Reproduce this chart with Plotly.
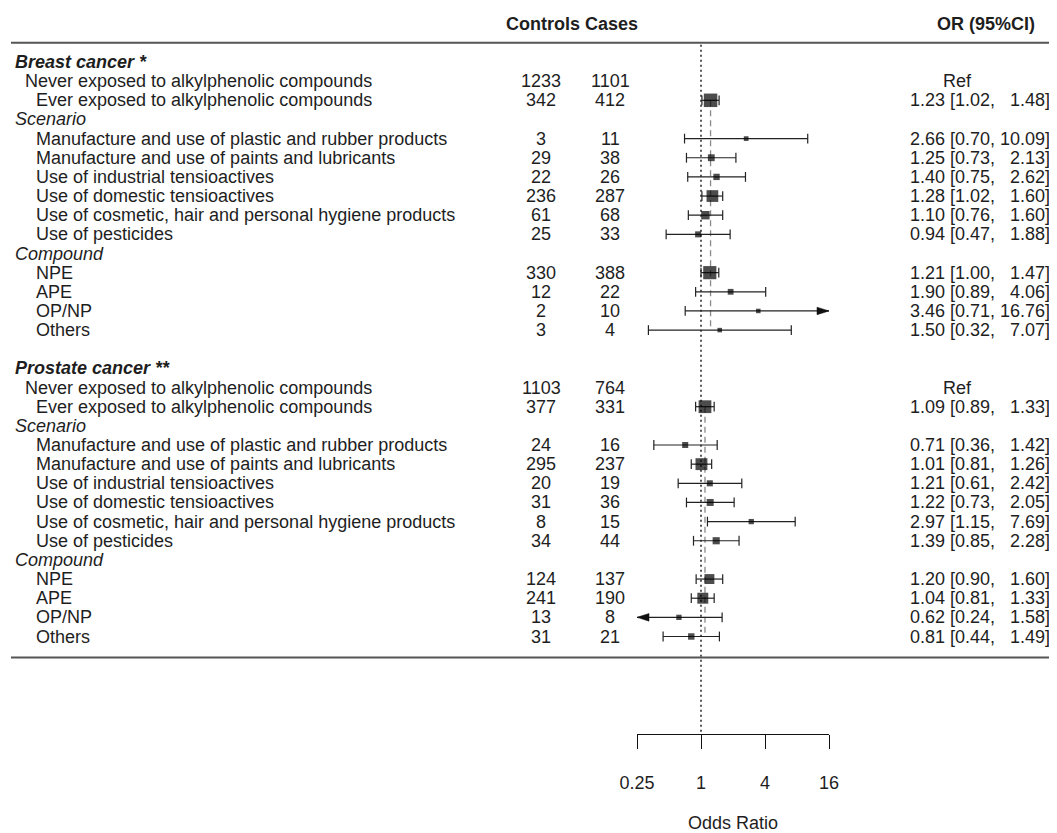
import numpy as np
import plotly.graph_objects as go

# ---------------- data ----------------
item_labels = [
    "Never exposed to alkylphenolic compounds",
    "Ever exposed to alkylphenolic compounds",
    "Manufacture and use of plastic and rubber products",
    "Manufacture and use of paints and lubricants",
    "Use of industrial tensioactives",
    "Use of domestic tensioactives",
    "Use of cosmetic, hair and personal hygiene products",
    "Use of pesticides",
    "NPE",
    "APE",
    "OP/NP",
    "Others",
]
section_titles = ["Breast cancer *", "Prostate cancer **"]
group_titles = ["Scenario", "Compound"]

breast_controls = [1233, 342, 3, 29, 22, 236, 61, 25, 330, 12, 2, 3]
breast_cases = [1101, 412, 11, 38, 26, 287, 68, 33, 388, 22, 10, 4]
breast_or = [None, 1.23, 2.66, 1.25, 1.40, 1.28, 1.10, 0.94, 1.21, 1.90, 3.46, 1.50]
breast_lo = [None, 1.02, 0.70, 0.73, 0.75, 1.02, 0.76, 0.47, 1.00, 0.89, 0.71, 0.32]
breast_hi = [None, 1.48, 10.09, 2.13, 2.62, 1.60, 1.60, 1.88, 1.47, 4.06, 16.76, 7.07]

prostate_controls = [1103, 377, 24, 295, 20, 31, 8, 34, 124, 241, 13, 31]
prostate_cases = [764, 331, 16, 237, 19, 36, 15, 44, 137, 190, 8, 21]
prostate_or = [None, 1.09, 0.71, 1.01, 1.21, 1.22, 2.97, 1.39, 1.20, 1.04, 0.62, 0.81]
prostate_lo = [None, 0.89, 0.36, 0.81, 0.61, 0.73, 1.15, 0.85, 0.90, 0.81, 0.24, 0.44]
prostate_hi = [None, 1.33, 1.42, 1.26, 2.42, 2.05, 7.69, 2.28, 1.60, 1.33, 1.58, 1.49]

tick_vals = [0.25, 1, 4, 16]
tick_text = ["0.25", "1", "4", "16"]
x_title = "Odds Ratio"
header_counts = "Controls Cases"
header_or = "OR (95%CI)"
ref_text = "Ref"

# ---------------- layout constants (page pixels) ----------------
PAGE_W, PAGE_H = 1057, 833
PAD = 8                      # default body margin of the html page
W, H = PAGE_W - PAD, PAGE_H - PAD
ROW0_PX = 62.0      # page y of first row
ROW_PX = 19.15      # row height
AXIS_PX = 734.0     # page y of the x axis line
AX_L, AX_R = 637.0, 829.0
XMIN, XMAX = tick_vals[0], tick_vals[-1]
PX_PER_LOG2 = (AX_R - AX_L) / (np.log2(XMAX) - np.log2(XMIN))

FONT = "Liberation Sans, Arial, Helvetica, sans-serif"
FS = 18
TXT = "#1e1e1e"


def px_x(px):
    return (px - PAD) / W


item_offsets = [1, 2, 4, 5, 6, 7, 8, 9, 11, 12, 13, 14]
group_offsets = [3, 10]
section_starts = [0, 16]

sections = [
    (breast_controls, breast_cases, breast_or, breast_lo, breast_hi),
    (prostate_controls, prostate_cases, prostate_or, prostate_lo, prostate_hi),
]

# point sizes as in metafor: proportional to 1/SE, rescaled to [0.5, 1.5]
all_lo = [v for s in sections for v in s[3] if v is not None]
all_hi = [v for s in sections for v in s[4] if v is not None]
inv_se = [1.0 / ((np.log(h) - np.log(l)) / (2 * 1.96)) for l, h in zip(all_lo, all_hi)]
w_min, w_max = min(inv_se), max(inv_se)


def psize(l, h):
    w = 1.0 / ((np.log(h) - np.log(l)) / (2 * 1.96))
    return 0.5 + (w - w_min) / (w_max - w_min)


fig = go.Figure()

y_top = (PAD - ROW0_PX) / ROW_PX
y_bot = (AXIS_PX - ROW0_PX) / ROW_PX
last_row = section_starts[-1] + item_offsets[-1]

# reference line at OR = 1
fig.add_trace(go.Scatter(x=[1, 1], y=[-0.9, y_bot], mode="lines",
                         line=dict(color="#111", width=1.4, dash="2px,3px"),
                         hoverinfo="skip", showlegend=False))

ci_x, ci_y = [], []
cap_x, cap_y = [], []
arr_x, arr_y = [], []
sq_x, sq_y, sq_s = [], [], []
annotations = []
ARROW_LEN = 12.0
ARROW_HALF = 3.8 / ROW_PX


def ann(text, xpx, row, anchor="left", bold=False, italic=False, size=FS):
    t = text
    if bold:
        t = "<b>" + t + "</b>"
    if italic:
        t = "<i>" + t + "</i>"
    annotations.append(dict(text=t, x=px_x(xpx), y=row, xref="paper", yref="y",
                            xanchor=anchor, yanchor="middle", showarrow=False,
                            font=dict(family=FONT, size=size, color=TXT)))


for si, (ctrl, case, orv, lo, hi) in enumerate(sections):
    base = section_starts[si]
    ann(section_titles[si], 13, base, bold=True, italic=True)
    for gi, g_off in enumerate(group_offsets):
        ann(group_titles[gi], 13, base + g_off, italic=True)
    # dashed line at the "ever exposed" estimate
    fig.add_trace(go.Scatter(x=[orv[1], orv[1]], y=[base + item_offsets[1], base + item_offsets[-1]],
                             mode="lines", line=dict(color="#8a8a8a", width=1.3, dash="6px,4px"),
                             hoverinfo="skip", showlegend=False))
    for i, lab in enumerate(item_labels):
        row = base + item_offsets[i]
        ann(lab, 23 if i == 0 else 34, row)
        ann(str(ctrl[i]), 541, row, anchor="center")
        ann(str(case[i]), 610, row, anchor="center")
        if orv[i] is None:
            ann(ref_text, 957, row, anchor="center")
            continue
        hi_s = "%.2f" % hi[i]
        if len(hi_s) < 5:
            hi_s = "\u00a0\u00a0" + hi_s
        ann("%.2f [%.2f,\u00a0%s]" % (orv[i], lo[i], hi_s), 1052, row, anchor="right")
        l_c = max(lo[i], XMIN)
        h_c = min(hi[i], XMAX)
        ci_x += [l_c, h_c, None]
        ci_y += [row, row, None]
        if lo[i] >= XMIN:
            cap_x.append(lo[i]); cap_y.append(row)
        else:
            b = XMIN * 2 ** (ARROW_LEN / PX_PER_LOG2)
            arr_x += [XMIN, b, b, XMIN, None]
            arr_y += [row, row - ARROW_HALF, row + ARROW_HALF, row, None]
        if hi[i] <= XMAX:
            cap_x.append(hi[i]); cap_y.append(row)
        else:
            b = XMAX * 2 ** (-ARROW_LEN / PX_PER_LOG2)
            arr_x += [XMAX, b, b, XMAX, None]
            arr_y += [row, row - ARROW_HALF, row + ARROW_HALF, row, None]
        sq_x.append(orv[i]); sq_y.append(row); sq_s.append(9.0 * psize(lo[i], hi[i]))

fig.add_trace(go.Scatter(x=ci_x, y=ci_y, mode="lines", line=dict(color="#222", width=1.2),
                         hoverinfo="skip", showlegend=False))
fig.add_trace(go.Scatter(x=cap_x, y=cap_y, mode="markers", cliponaxis=False,
                         marker=dict(symbol="line-ns", size=7, line=dict(color="#222", width=1.2)),
                         hoverinfo="skip", showlegend=False))
fig.add_trace(go.Scatter(x=arr_x, y=arr_y, mode="lines", fill="toself", fillcolor="#111",
                         line=dict(color="#111", width=0.5), hoverinfo="skip", showlegend=False))
fig.add_trace(go.Scatter(x=sq_x, y=sq_y, mode="markers", cliponaxis=False,
                         marker=dict(symbol="square", size=sq_s, color="#000", line=dict(width=0)),
                         hoverinfo="skip", showlegend=False))

# header
ann(header_counts, 504, -2, bold=True)
ann(header_or, 986, -2, anchor="center", bold=True)

shapes = [
    dict(type="line", xref="paper", yref="y", x0=px_x(11), x1=1.0, y0=-1, y1=-1,
         line=dict(color="#555", width=2)),
    dict(type="line", xref="paper", yref="y", x0=px_x(11), x1=1.0, y0=last_row + 1.1, y1=last_row + 1.1,
         line=dict(color="#555", width=2)),
]

fig.update_layout(
    width=W, height=H,
    margin=dict(l=0, r=0, t=0, b=0),
    paper_bgcolor="white", plot_bgcolor="white",
    showlegend=False,
    annotations=annotations,
    shapes=shapes,
    xaxis=dict(type="log", domain=[px_x(AX_L), px_x(AX_R)],
               range=[np.log10(XMIN), np.log10(XMAX)],
               tickvals=tick_vals, ticktext=tick_text,
               ticks="outside", ticklen=14, tickwidth=1.2, tickcolor="#111",
               showline=True, linecolor="#111", linewidth=1.2,
               showgrid=False, zeroline=False, ticklabelstandoff=18,
               tickfont=dict(family=FONT, size=FS, color=TXT),
               title=dict(text=x_title, font=dict(family=FONT, size=FS, color=TXT), standoff=26),
               automargin=False, fixedrange=True),
    yaxis=dict(domain=[(H - (AXIS_PX - PAD)) / H, 1.0], range=[y_bot, y_top],
               visible=False, showgrid=False, zeroline=False, fixedrange=True),
)

fig.write_html("out.html")
